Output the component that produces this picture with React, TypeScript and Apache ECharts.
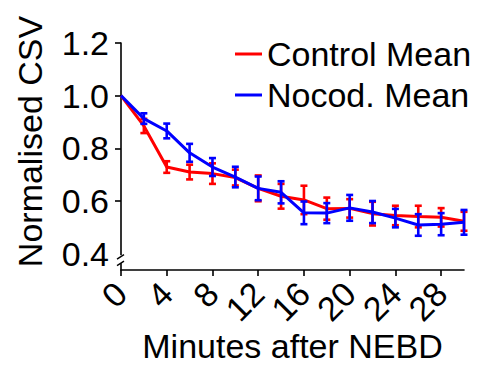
import React, { useEffect, useRef } from "react";
import * as echarts from "echarts";

// Time points (minutes after NEBD)
const minutes = [0, 2, 4, 6, 8, 10, 12, 14, 16, 18, 20, 22, 24, 26, 28, 30];

// Normalised CSV, control cells
const controlMean = [1.0, 0.885, 0.729, 0.71, 0.704, 0.689, 0.648, 0.618, 0.604, 0.571, 0.572, 0.552, 0.545, 0.541, 0.538, 0.523];
const controlErr = [0, 0.027, 0.022, 0.028, 0.039, 0.03, 0.049, 0.047, 0.054, 0.042, 0.035, 0.045, 0.037, 0.041, 0.035, 0.036];

// Normalised CSV, nocodazole-treated cells
const nocodMean = [1.0, 0.913, 0.866, 0.783, 0.729, 0.691, 0.648, 0.633, 0.555, 0.554, 0.574, 0.558, 0.535, 0.509, 0.512, 0.519];
const nocodErr = [0, 0.02, 0.028, 0.034, 0.034, 0.039, 0.045, 0.042, 0.043, 0.038, 0.049, 0.042, 0.035, 0.041, 0.042, 0.047];

const xTicks = [0, 4, 8, 12, 16, 20, 24, 28];
const yLabels = [0.4, 0.6, 0.8, 1.0, 1.2];
const yTicks = [0.6, 0.8, 1.0, 1.2];

const FONT = "'Liberation Sans', Arial, Helvetica, sans-serif";
const RED = "#ff0000";
const BLUE = "#0000ff";

function errorData(mean: number[], err: number[]) {
  return minutes.map((m, i) => [m, mean[i] - err[i], mean[i] + err[i]]);
}

function errorRenderer(color: string) {
  return (_params: any, api: any) => {
    const x = api.value(0);
    const lo = api.value(1);
    const hi = api.value(2);
    if (hi - lo <= 0) return null;
    const top = api.coord([x, hi]);
    const bot = api.coord([x, lo]);
    const cap = 3.5;
    const style = { stroke: color, lineWidth: 2.6 };
    return {
      type: "group",
      children: [
        { type: "line", shape: { x1: top[0], y1: top[1], x2: bot[0], y2: bot[1] }, style },
        { type: "line", shape: { x1: top[0] - cap, y1: top[1], x2: top[0] + cap, y2: top[1] }, style },
        { type: "line", shape: { x1: bot[0] - cap, y1: bot[1], x2: bot[0] + cap, y2: bot[1] }, style },
      ],
    };
  };
}

export default function App() {
  const ref = useRef<HTMLDivElement>(null);

  useEffect(() => {
    if (!ref.current) return;
    const chart = echarts.init(ref.current, null, { renderer: "svg" });
    const axisLine = { show: true, lineStyle: { color: "#000", width: 1.6 } };
    chart.setOption({
      animation: false,
      textStyle: { fontFamily: FONT, color: "#000" },
      grid: { left: 121, right: 33, top: 43, bottom: 95 },
      legend: {
        orient: "vertical",
        left: 230,
        top: 32,
        icon: "rect",
        itemWidth: 27,
        itemHeight: 3,
        itemGap: 7,
        textStyle: { fontSize: 34, lineHeight: 34, color: "#000", fontFamily: FONT },
        data: ["Control Mean", "Nocod. Mean"],
      },
      xAxis: {
        type: "value",
        min: 0,
        max: 30,
        interval: 4,
        splitLine: { show: false },
        axisLine,
        axisTick: { show: true, length: 6, customValues: xTicks, lineStyle: { color: "#000", width: 1.6 } },
        axisLabel: {
          rotate: 45,
          fontSize: 34,
          color: "#000",
          margin: 18,
          fontFamily: FONT,
          showMinLabel: true,
          hideOverlap: false,
          // only the listed tick values carry a label; the axis end stays blank
          formatter: (v: number) => (xTicks.indexOf(v) >= 0 ? String(v) : ""),
        },
        name: "Minutes after NEBD",
        nameLocation: "middle",
        nameGap: 59,
        nameMoveOverlap: false,
        nameTextStyle: { fontSize: 34, color: "#000", fontFamily: FONT },
      },
      yAxis: {
        type: "value",
        min: 0.338,
        max: 1.2,
        splitLine: { show: false },
        axisLine,
        axisTick: { show: true, length: 6, customValues: yTicks, lineStyle: { color: "#000", width: 1.6 } },
        axisLabel: {
          customValues: yLabels,
          fontSize: 34,
          color: "#000",
          margin: 12,
          fontFamily: FONT,
          showMinLabel: true,
          showMaxLabel: true,
          formatter: (v: number) => v.toFixed(1),
        },
        name: "Normalised CSV",
        nameLocation: "middle",
        nameGap: 74,
        nameMoveOverlap: false,
        nameTextStyle: { fontSize: 34, color: "#000", fontFamily: FONT, padding: [0, 0, 0, 30] },
      },
      series: [
        {
          name: "Control Mean",
          type: "line",
          data: minutes.map((m, i) => [m, controlMean[i]]),
          showSymbol: false,
          lineStyle: { color: RED, width: 3 },
          itemStyle: { color: RED },
          z: 2,
        },
        {
          name: "Control Mean",
          type: "custom",
          data: errorData(controlMean, controlErr),
          encode: { x: 0, y: [1, 2] },
          renderItem: errorRenderer(RED),
          z: 3,
        },
        {
          name: "Nocod. Mean",
          type: "line",
          data: minutes.map((m, i) => [m, nocodMean[i]]),
          showSymbol: false,
          lineStyle: { color: BLUE, width: 3 },
          itemStyle: { color: BLUE },
          z: 4,
        },
        {
          name: "Nocod. Mean",
          type: "custom",
          data: errorData(nocodMean, nocodErr),
          encode: { x: 0, y: [1, 2] },
          renderItem: errorRenderer(BLUE),
          z: 5,
        },
      ],
    });

    // Axis break marks just below 0.4 on the y axis
    const p = chart.convertToPixel({ gridIndex: 0 }, [0, 0.4]) as number[];
    const ax = p[0];
    const y = p[1];
    chart.setOption({
      graphic: [
        { type: "rect", shape: { x: ax - 3, y: y + 1.5, width: 6, height: 8 }, style: { fill: "#fff" }, z: 100 },
        { type: "line", shape: { x1: ax - 4, y1: y + 5.5, x2: ax + 3, y2: y + 1 }, style: { stroke: "#000", lineWidth: 1.4 }, z: 101 },
        { type: "line", shape: { x1: ax - 4, y1: y + 12, x2: ax + 3, y2: y + 7.5 }, style: { stroke: "#000", lineWidth: 1.4 }, z: 101 },
      ],
    });

    return () => chart.dispose();
  }, []);

  return (
    <div
      ref={ref}
      style={{ position: "absolute", left: 0, top: 0, width: 497, height: 368, background: "#fff" }}
    />
  );
}
